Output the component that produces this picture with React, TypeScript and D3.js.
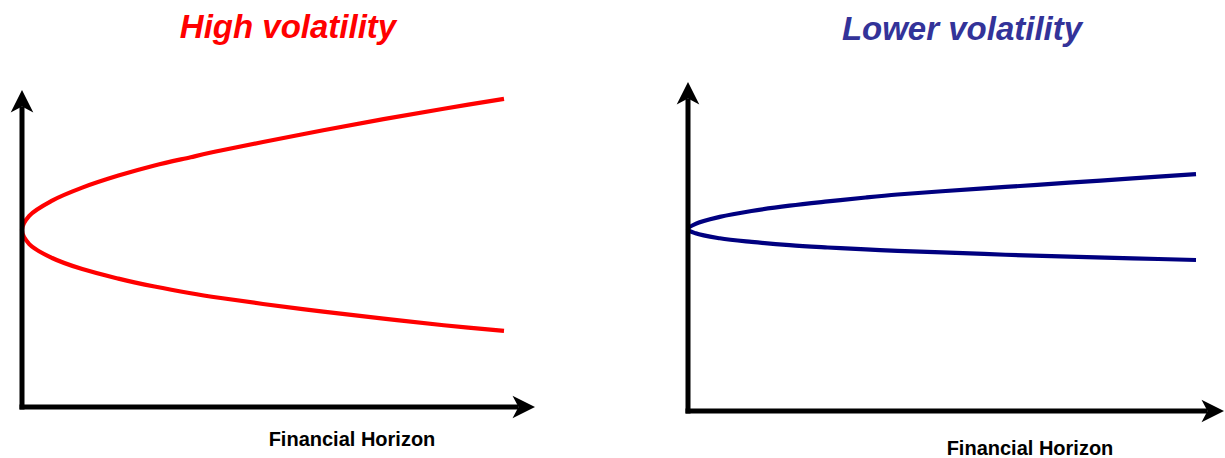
import * as d3 from 'd3'
import { useEffect } from 'react'

// financial horizon (years) shared by all four bands
const horizon = [0, 0.3, 1.25, 2.5, 4, 5.5, 7, 8.25, 10, 12.5, 15, 17.5, 20]

// high volatility band
const highUpper = [55.8, 60.3, 65.1, 69.2, 73.0, 76.2, 78.8, 80.9, 83.6, 87.3, 90.8, 94.1, 97.2]
const highLower = [55.8, 51.4, 47.0, 43.5, 40.5, 38.0, 35.9, 34.4, 32.5, 30.1, 27.9, 25.8, 24.0]

// lower volatility band
const lowUpper = [55.3, 56.9, 59.0, 60.8, 62.4, 63.7, 64.9, 65.8, 66.8, 68.1, 69.4, 70.7, 72.0]
const lowLower = [55.3, 54.0, 52.5, 51.4, 50.4, 49.7, 49.1, 48.7, 48.2, 47.5, 46.9, 46.4, 45.9]

const titles = ['High volatility', 'Lower volatility']
const xLabel = 'Financial Horizon'

const width = 1225
const height = 458
const font = '"Liberation Sans", Arial, sans-serif'

interface PanelProps {
  title: string
  titleColor: string
  titleX: number
  titleY: number
  lineColor: string
  upper: number[]
  lower: number[]
  xRange: [number, number]
  yRange: [number, number]
  xAxisEnd: number
  labelX: number
  labelY: number
}

const Panel = (p: PanelProps) => {
  const x = d3.scaleLinear().domain([0, 20]).range(p.xRange)
  const y = d3.scaleLinear().domain([0, 100]).range(p.yRange)

  const x0 = x(0)
  const y0 = y(0)
  const yTip = y(100)
  const xTip = p.xAxisEnd

  // one path: upper band back to the start point, then out along the lower band
  const pts: [number, number][] = [
    ...horizon.map((t, i) => [x(t), y(p.upper[i])] as [number, number]).reverse(),
    ...horizon.slice(1).map((t, i) => [x(t), y(p.lower[i + 1])] as [number, number]),
  ]
  const line = d3.line().curve(d3.curveCatmullRom.alpha(0.5))

  const head = 22.5
  const half = 11.3
  const notch = 6

  return (
    <g>
      <text
        x={p.titleX}
        y={p.titleY}
        textAnchor="middle"
        fontFamily={font}
        fontWeight="bold"
        fontStyle="italic"
        fontSize={33}
        fill={p.titleColor}
      >
        {p.title}
      </text>

      <path
        d={line(pts) ?? ''}
        fill="none"
        stroke={p.lineColor}
        strokeWidth={4.2}
        strokeLinejoin="round"
      />

      <line x1={x0} y1={y0 + 2.5} x2={x0} y2={yTip + head - notch} stroke="#000" strokeWidth={5} />
      <line x1={x0 - 2.5} y1={y0} x2={xTip - head + notch} y2={y0} stroke="#000" strokeWidth={5} />
      <path
        d={`M${x0},${yTip} L${x0 + half},${yTip + head} L${x0},${yTip + head - notch} L${x0 - half},${yTip + head} Z`}
        fill="#000"
      />
      <path
        d={`M${xTip},${y0} L${xTip - head},${y0 - half} L${xTip - head + notch},${y0} L${xTip - head},${y0 + half} Z`}
        fill="#000"
      />

      <text
        x={p.labelX}
        y={p.labelY}
        textAnchor="middle"
        fontFamily={font}
        fontWeight="bold"
        fontSize={20}
        fill="#000"
      >
        {xLabel}
      </text>
    </g>
  )
}

const App = () => {
  useEffect(() => {
    document.body.style.margin = '0'
  }, [])

  return (
    <svg
      width={width}
      height={height}
      viewBox={`0 0 ${width} ${height}`}
      style={{ position: 'absolute', left: 0, top: 0, background: '#fff' }}
    >
      <Panel
        title={titles[0]}
        titleColor="#ff0000"
        titleX={288}
        titleY={38}
        lineColor="#ff0000"
        upper={highUpper}
        lower={highLower}
        xRange={[22, 504]}
        yRange={[407, 90]}
        xAxisEnd={535}
        labelX={352}
        labelY={446}
      />
      <Panel
        title={titles[1]}
        titleColor="#333399"
        titleX={962}
        titleY={40}
        lineColor="#000080"
        upper={lowUpper}
        lower={lowLower}
        xRange={[688, 1196]}
        yRange={[411, 82]}
        xAxisEnd={1224}
        labelX={1030}
        labelY={455}
      />
    </svg>
  )
}

export default App
